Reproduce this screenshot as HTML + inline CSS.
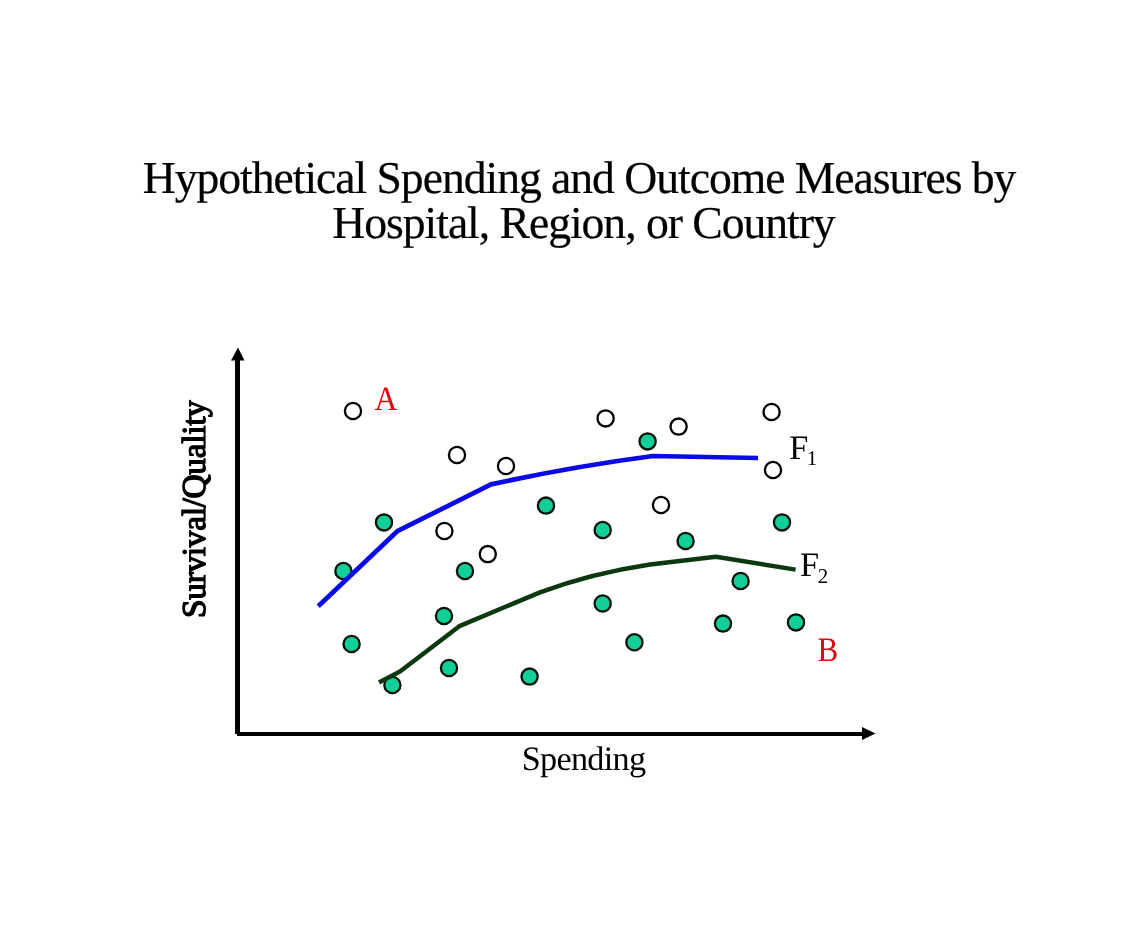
<!DOCTYPE html>
<html lang="en">
<head>
<meta charset="utf-8">
<title>Hypothetical Spending and Outcome Measures</title>
<style>
  html, body { margin: 0; padding: 0; background: #ffffff; }
  body { width: 1125px; height: 950px; overflow: hidden; position: relative;
         font-family: "Liberation Serif", serif; color: #000; }
  svg { position: absolute; left: 0; top: 0; display: block; }
  text { font-family: "Liberation Serif", serif; text-rendering: geometricPrecision; }
  .title { font-size: 45.7px; letter-spacing: -1.05px; fill: #000; text-anchor: middle; stroke: #000; stroke-width: 0.2px; }
  .lab { font-size: 34.2px; letter-spacing: -0.71px; fill: #000; }
  .red { font-size: 34.2px; fill: #e6000e; }
  .w { fill: #ffffff; stroke: #000; stroke-width: 2.3; }
  .g { fill: #12cf9a; stroke: #001206; stroke-width: 2.3; }
</style>
</head>
<body>
<svg width="1125" height="950" viewBox="0 0 1125 950">
  <rect x="0" y="0" width="1125" height="950" fill="#ffffff"/>

  <!-- Title -->
  <text class="title" x="579.1" y="193">Hypothetical Spending and Outcome Measures by</text>
  <text class="title" x="583.5" y="238">Hospital, Region, or Country</text>

  <!-- Axes -->
  <rect x="235" y="359" width="5" height="375" fill="#000"/>
  <polygon points="238,347.5 244.5,360.5 231,360.5" fill="#000"/>
  <rect x="237" y="732" width="626" height="4" fill="#000"/>
  <polygon points="875.5,733.5 862,727 862,740" fill="#000"/>

  <!-- Axis labels -->
  <text class="lab" x="521.8" y="770">Spending</text>
  <text class="lab" style="font-size:33.4px;letter-spacing:-0.32px" transform="translate(204.9,618) rotate(-90)" stroke="#000" stroke-width="1.3" stroke-linejoin="round">Survival/Quality</text>

  <!-- White circles -->
  <g class="w">
    <circle cx="353" cy="411" r="8.1"/>
    <circle cx="457" cy="455" r="8.1"/>
    <circle cx="506" cy="466" r="8.1"/>
    <circle cx="444.4" cy="531" r="8.1"/>
    <circle cx="487.8" cy="554.1" r="8.1"/>
    <circle cx="605.6" cy="418.4" r="8.1"/>
    <circle cx="678.6" cy="426.6" r="8.1"/>
    <circle cx="661" cy="505" r="8.1"/>
    <circle cx="771.6" cy="412" r="8.1"/>
    <circle cx="773" cy="470" r="8.1"/>
  </g>

  <!-- Green circles -->
  <g class="g">
    <circle cx="647.6" cy="441.4" r="8.1"/>
    <circle cx="384" cy="522.4" r="8.1"/>
    <circle cx="343.4" cy="571" r="8.1"/>
    <circle cx="465" cy="571" r="8.1"/>
    <circle cx="546" cy="505.6" r="8.1"/>
    <circle cx="602.7" cy="530" r="8.1"/>
    <circle cx="685.6" cy="541" r="8.1"/>
    <circle cx="782" cy="522.4" r="8.1"/>
    <circle cx="740.6" cy="581" r="8.1"/>
    <circle cx="444" cy="616" r="8.1"/>
    <circle cx="351.6" cy="644" r="8.1"/>
    <circle cx="602.7" cy="603.5" r="8.1"/>
    <circle cx="634.4" cy="642.3" r="8.1"/>
    <circle cx="723" cy="623.6" r="8.1"/>
    <circle cx="796" cy="622.4" r="8.1"/>
    <circle cx="392.4" cy="685" r="8.1"/>
    <circle cx="449" cy="668" r="8.1"/>
    <circle cx="529.6" cy="676.6" r="8.1"/>
  </g>

  <!-- Frontier curves -->
  <path d="M318.2,606.2 L397.3,531.2 L491,484.4 Q572,466.6 653,456 L758,458" fill="none" stroke="#0a0ae6" stroke-width="4.7" stroke-linejoin="round"/>
  <path d="M379,682.5 L400,671.5 L460,625.8 L540,592.4 Q590,573.4 650,564.4 L716,556.8 L795.6,569.6" fill="none" stroke="#0c3810" stroke-width="4.5" stroke-linejoin="round"/>

  <!-- Curve labels -->
  <text class="lab" x="789.3" y="459">F<tspan dx="-0.8" dy="5.8" style="font-size:21px">1</tspan></text>
  <text class="lab" x="800" y="576">F<tspan dx="-0.5" dy="6.8" style="font-size:21px">2</tspan></text>

  <!-- Point labels -->
  <text class="red" transform="translate(374.6,410) scale(0.93,1)">A</text>
  <text class="red" transform="translate(817.6,661) scale(0.91,1)">B</text>
</svg>
</body>
</html>
